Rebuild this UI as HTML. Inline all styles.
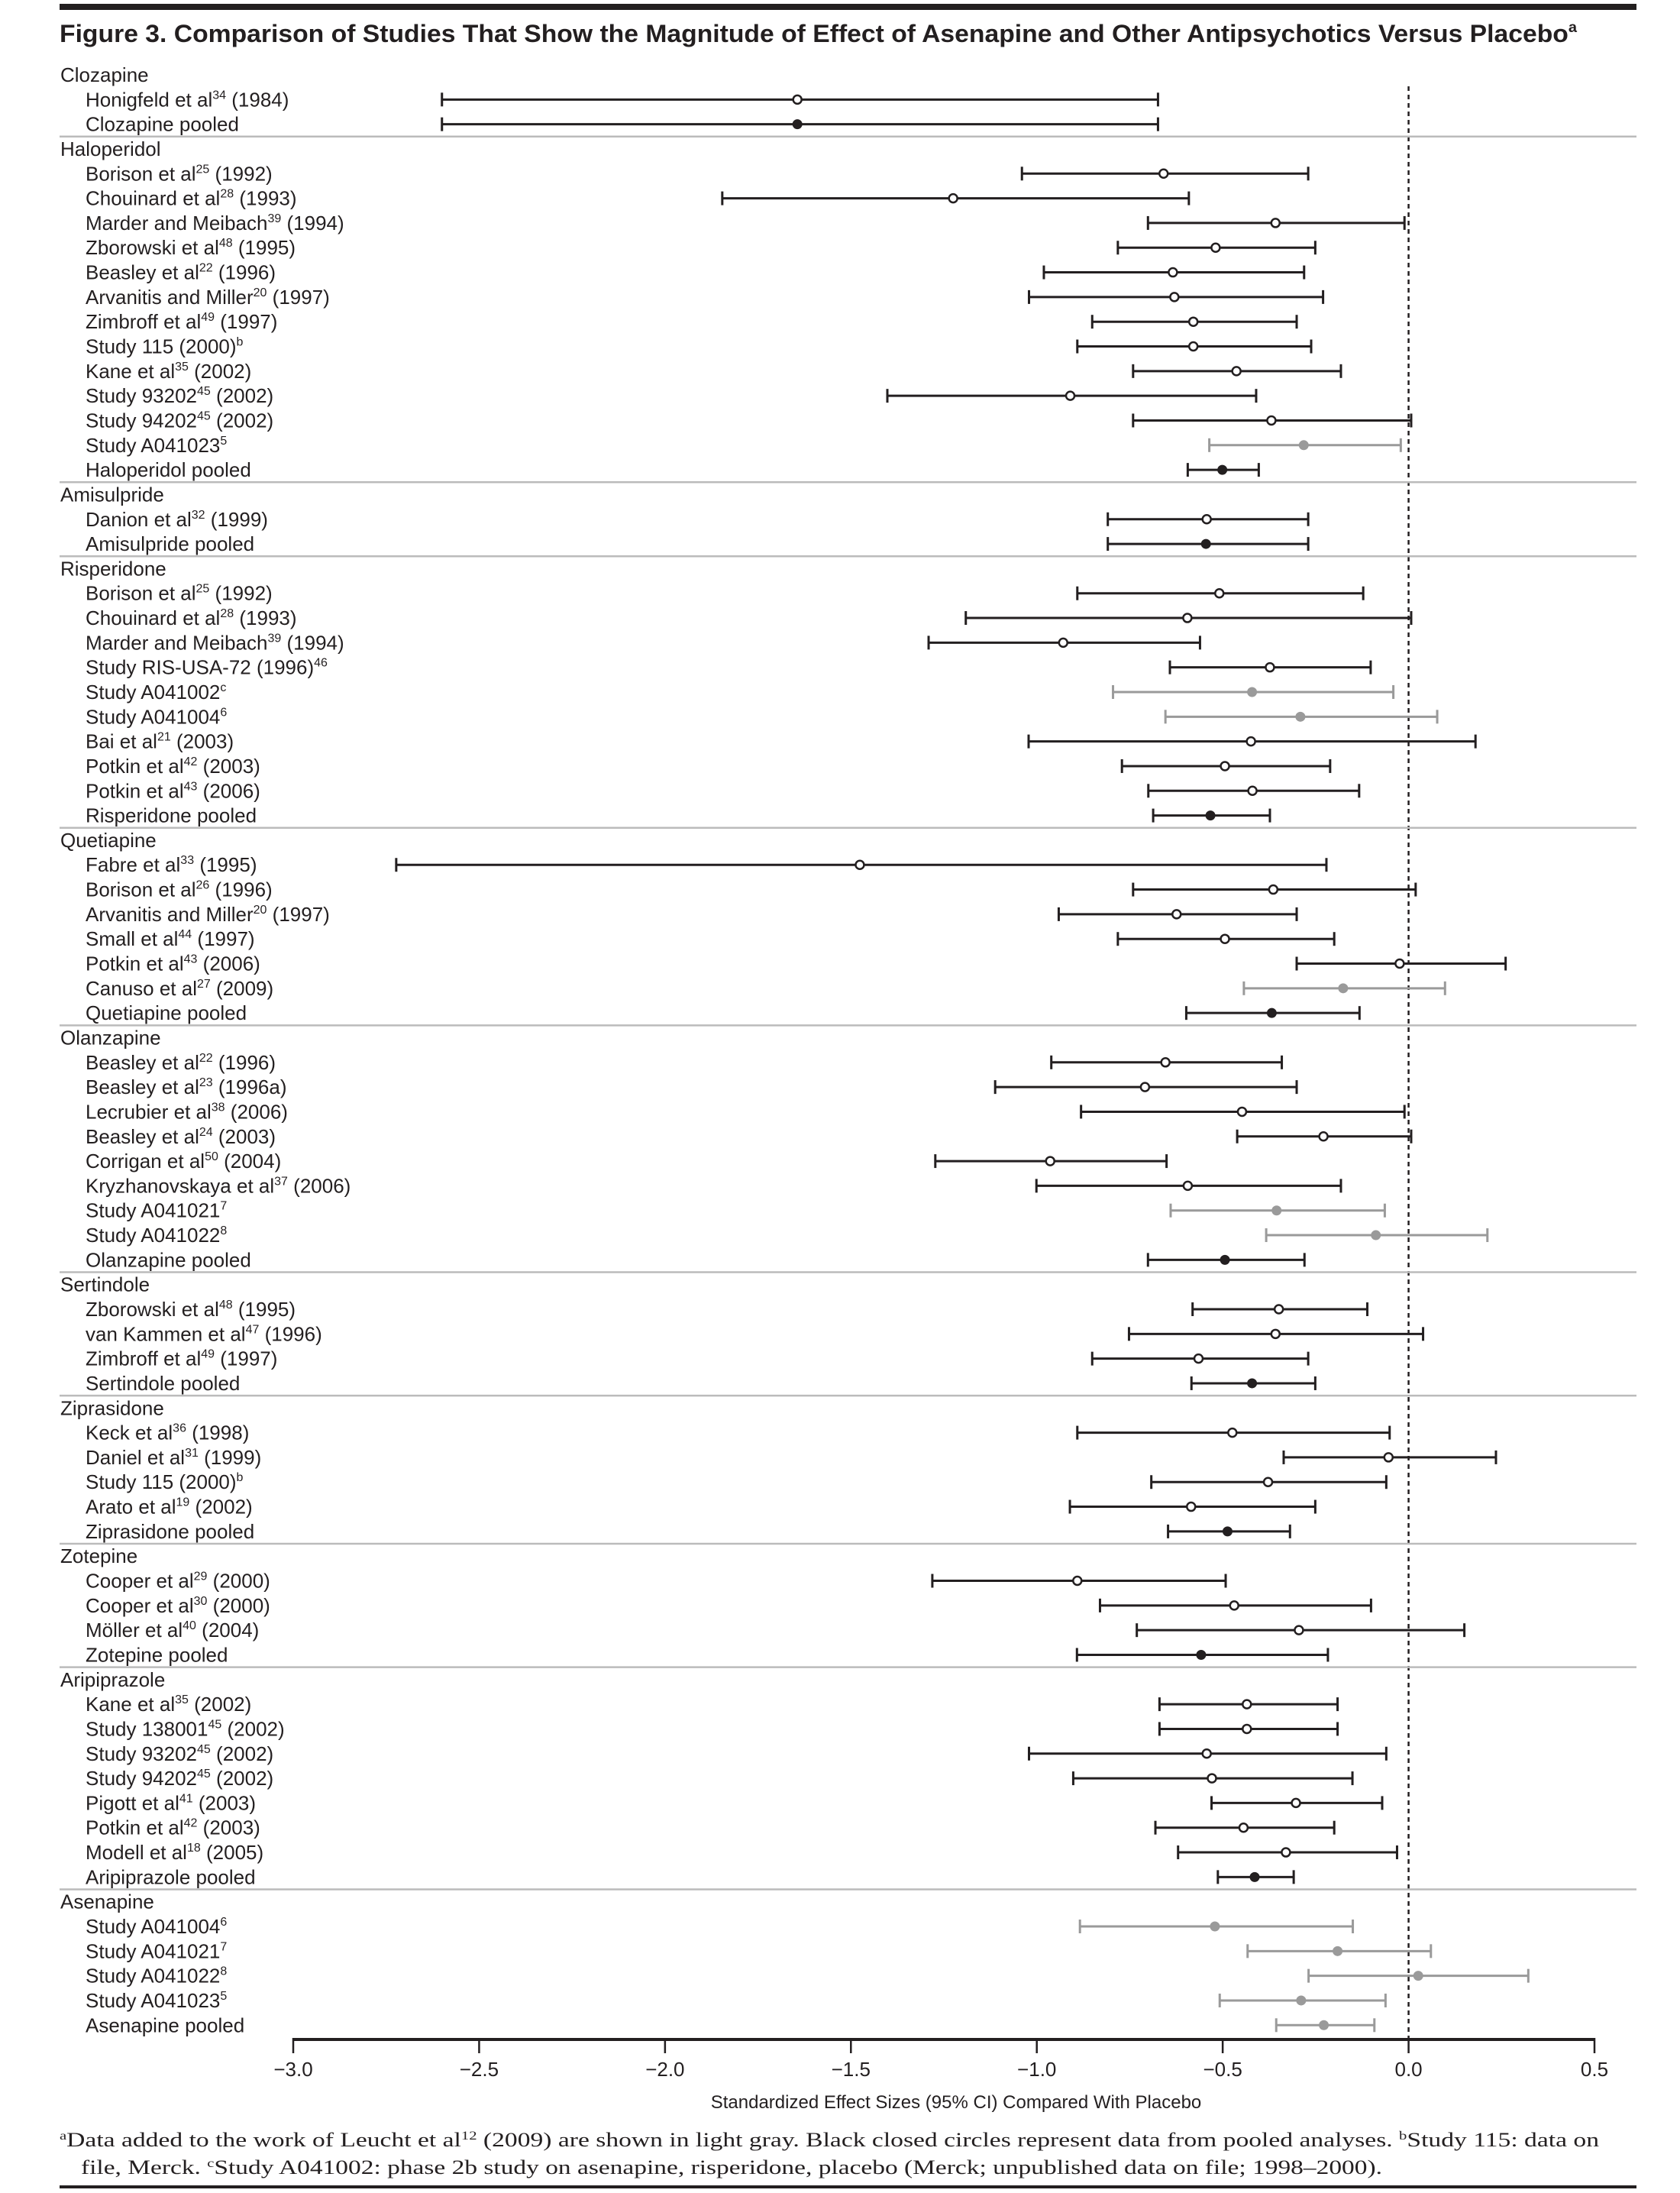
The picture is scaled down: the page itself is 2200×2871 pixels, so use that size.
<!DOCTYPE html>
<html><head><meta charset="utf-8"><style>
html,body{margin:0;padding:0;background:#fff;}
svg{display:block;}
text{font-family:"Liberation Sans",sans-serif;fill:#231f20;}
</style></head><body>
<svg id="chart" width="2200" height="2871" viewBox="0 0 2200 2871" xmlns="http://www.w3.org/2000/svg">
<rect x="78" y="5" width="2065" height="8" fill="#231f20"/>
<text x="78" y="55" font-size="32" font-weight="bold" textLength="1987" lengthAdjust="spacingAndGlyphs">Figure 3. Comparison of Studies That Show the Magnitude of Effect of Asenapine and Other Antipsychotics Versus Placebo<tspan font-size="19" dy="-13">a</tspan></text>
<g id="rows"></g>
<g id="axis"></g>
<text x="1252" y="2760" font-size="24" text-anchor="middle">Standardized Effect Sizes (95% CI) Compared With Placebo</text>
<text x="78" y="2810" font-size="26" style="font-family:'Liberation Serif',serif" textLength="2016" lengthAdjust="spacingAndGlyphs"><tspan font-size="16" dy="-9">a</tspan><tspan dy="9">Data added to the work of Leucht et al</tspan><tspan font-size="16" dy="-9">12</tspan><tspan dy="9"> (2009) are shown in light gray. Black closed circles represent data from pooled analyses.   </tspan><tspan font-size="16" dy="-9">b</tspan><tspan dy="9">Study 115: data on</tspan></text>
<text x="106" y="2846" font-size="26" style="font-family:'Liberation Serif',serif" textLength="1704" lengthAdjust="spacingAndGlyphs">file, Merck.   <tspan font-size="16" dy="-9">c</tspan><tspan dy="9">Study A041002: phase 2b study on asenapine, risperidone, placebo (Merck; unpublished data on file; 1998–2000).</tspan></text>
<rect x="78" y="2861" width="2065" height="4" fill="#231f20"/>
</svg>
<script>
const labels = [
"Clozapine","Honigfeld et al^34^ (1984)","Clozapine pooled",
"Haloperidol","Borison et al^25^ (1992)","Chouinard et al^28^ (1993)","Marder and Meibach^39^ (1994)","Zborowski et al^48^ (1995)","Beasley et al^22^ (1996)","Arvanitis and Miller^20^ (1997)","Zimbroff et al^49^ (1997)","Study 115 (2000)^b^","Kane et al^35^ (2002)","Study 93202^45^ (2002)","Study 94202^45^ (2002)","Study A041023^5^","Haloperidol pooled",
"Amisulpride","Danion et al^32^ (1999)","Amisulpride pooled",
"Risperidone","Borison et al^25^ (1992)","Chouinard et al^28^ (1993)","Marder and Meibach^39^ (1994)","Study RIS-USA-72 (1996)^46^","Study A041002^c^","Study A041004^6^","Bai et al^21^ (2003)","Potkin et al^42^ (2003)","Potkin et al^43^ (2006)","Risperidone pooled",
"Quetiapine","Fabre et al^33^ (1995)","Borison et al^26^ (1996)","Arvanitis and Miller^20^ (1997)","Small et al^44^ (1997)","Potkin et al^43^ (2006)","Canuso et al^27^ (2009)","Quetiapine pooled",
"Olanzapine","Beasley et al^22^ (1996)","Beasley et al^23^ (1996a)","Lecrubier et al^38^ (2006)","Beasley et al^24^ (2003)","Corrigan et al^50^ (2004)","Kryzhanovskaya et al^37^ (2006)","Study A041021^7^","Study A041022^8^","Olanzapine pooled",
"Sertindole","Zborowski et al^48^ (1995)","van Kammen et al^47^ (1996)","Zimbroff et al^49^ (1997)","Sertindole pooled",
"Ziprasidone","Keck et al^36^ (1998)","Daniel et al^31^ (1999)","Study 115 (2000)^b^","Arato et al^19^ (2002)","Ziprasidone pooled",
"Zotepine","Cooper et al^29^ (2000)","Cooper et al^30^ (2000)","Möller et al^40^ (2004)","Zotepine pooled",
"Aripiprazole","Kane et al^35^ (2002)","Study 138001^45^ (2002)","Study 93202^45^ (2002)","Study 94202^45^ (2002)","Pigott et al^41^ (2003)","Potkin et al^42^ (2003)","Modell et al^18^ (2005)","Aripiprazole pooled",
"Asenapine","Study A041004^6^","Study A041021^7^","Study A041022^8^","Study A041023^5^","Asenapine pooled"
];
// kind: h=header, o=open study, g=gray study, p=pooled (black), q=pooled gray
const kinds = [
"h","o","p",
"h","o","o","o","o","o","o","o","o","o","o","o","g","p",
"h","o","p",
"h","o","o","o","o","g","g","o","o","o","p",
"h","o","o","o","o","o","g","p",
"h","o","o","o","o","o","o","g","g","p",
"h","o","o","o","p",
"h","o","o","o","o","p",
"h","o","o","o","p",
"h","o","o","o","o","o","o","o","p",
"h","g","g","g","g","q"
];
const estimates = [
null,-1.644,-1.644,
null,-0.659,-1.225,-0.358,-0.519,-0.634,-0.630,-0.579,-0.579,-0.463,-0.910,-0.369,-0.282,-0.501,
null,-0.543,-0.545,
null,-0.509,-0.595,-0.929,-0.373,-0.421,-0.291,-0.424,-0.494,-0.420,-0.533,
null,-1.476,-0.364,-0.624,-0.494,-0.024,-0.176,-0.368,
null,-0.654,-0.709,-0.448,-0.229,-0.964,-0.594,-0.355,-0.088,-0.494,
null,-0.349,-0.358,-0.565,-0.421,
null,-0.474,-0.054,-0.378,-0.585,-0.487,
null,-0.891,-0.469,-0.295,-0.558,
null,-0.435,-0.435,-0.543,-0.529,-0.303,-0.444,-0.330,-0.414,
null,-0.521,-0.191,0.026,-0.289,-0.228
];
const lowerCI = [
null,-2.60,-2.60,
null,-1.040,-1.846,-0.701,-0.782,-0.981,-1.021,-0.851,-0.891,-0.741,-1.402,-0.741,-0.536,-0.594,
null,-0.809,-0.809,
null,-0.891,-1.191,-1.291,-0.642,-0.795,-0.654,-1.022,-0.771,-0.700,-0.687,
null,-2.723,-0.741,-0.941,-0.782,-0.301,-0.443,-0.598,
null,-0.961,-1.112,-0.881,-0.461,-1.273,-1.001,-0.640,-0.383,-0.701,
null,-0.581,-0.752,-0.851,-0.584,
null,-0.891,-0.336,-0.692,-0.911,-0.647,
null,-1.281,-0.830,-0.731,-0.892,
null,-0.670,-0.670,-1.021,-0.902,-0.530,-0.681,-0.620,-0.513,
null,-0.884,-0.433,-0.269,-0.508,-0.356
];
const upperCI = [
null,-0.674,-0.674,
null,-0.270,-0.591,-0.011,-0.251,-0.281,-0.230,-0.301,-0.262,-0.182,-0.410,0.007,-0.021,-0.403,
null,-0.270,-0.270,
null,-0.122,0.007,-0.561,-0.102,-0.041,0.077,0.180,-0.211,-0.133,-0.373,
null,-0.221,0.019,-0.301,-0.200,0.261,0.098,-0.132,
null,-0.341,-0.301,-0.011,0.007,-0.651,-0.182,-0.064,0.212,-0.280,
null,-0.111,0.039,-0.270,-0.251,
null,-0.051,0.235,-0.060,-0.251,-0.319,
null,-0.492,-0.101,0.150,-0.217,
null,-0.191,-0.191,-0.060,-0.151,-0.071,-0.200,-0.031,-0.309,
null,-0.150,0.060,0.322,-0.062,-0.092
];
const xTicks = [-3.0,-2.5,-2.0,-1.5,-1.0,-0.5,0.0,0.5];
const xTickLabels = ["\u22123.0","\u22122.5","\u22122.0","\u22121.5","\u22121.0","\u22120.5","0.0","0.5"];

const NS = "http://www.w3.org/2000/svg";
const X0 = 384, X1 = 2088, VMIN = -3.0, VMAX = 0.5;
function xScale(v){ return X0 + (v - VMIN) / (VMAX - VMIN) * (X1 - X0); }
const ROW0 = 98, PITCH = 32.32;
function yRow(i){ return ROW0 + i * PITCH; }
function mk(tag, attrs){ const e = document.createElementNS(NS, tag); for (const k in attrs) e.setAttribute(k, attrs[k]); return e; }

const rowsG = document.getElementById('rows');
const axisG = document.getElementById('axis');

const zl = mk('line', {x1: xScale(0), x2: xScale(0), y1: 113, y2: 2669, stroke: '#231f20', 'stroke-width': 2.5, 'stroke-dasharray': '6 5'});


rowsG.appendChild(zl);

function addLabel(i, txt, isHeader){
  const t = mk('text', {x: isHeader ? 79 : 112, y: yRow(i) + 9, 'font-size': 26});
  
  
  const parts = txt.split('^');
  parts.forEach((p, k) => {
    if (!p) return;
    const ts = mk('tspan', {});
    if (k % 2 === 1) { ts.setAttribute('font-size', '16'); ts.setAttribute('baseline-shift', '10'); }
    ts.textContent = p;
    t.appendChild(ts);
  });
  rowsG.appendChild(t);
}

for (let i = 0; i < labels.length; i++) {
  const kind = kinds[i];
  if (kind === 'h') {
    addLabel(i, labels[i], true);
    if (i > 0) {
      const s = mk('line', {x1: 78, x2: 2143, y1: yRow(i) - PITCH / 2, y2: yRow(i) - PITCH / 2, stroke: '#bbbbbb', 'stroke-width': 2.5});
      
      
      rowsG.appendChild(s);
    }
    continue;
  }
  addLabel(i, labels[i], false);
  const gray = (kind === 'g' || kind === 'q');
  const col = gray ? '#9a9a9a' : '#231f20';
  const y = yRow(i);
  const g = mk('g', {});
  
  
  const xl = xScale(lowerCI[i]), xh = xScale(upperCI[i]), xe = xScale(estimates[i]);
  const ln = mk('line', {x1: xl, x2: xh, y1: y, y2: y, stroke: col, 'stroke-width': 3});
  
  
  g.appendChild(ln);
  [xl, xh].forEach(xx => {
    const c = mk('line', {x1: xx, x2: xx, y1: y - 9, y2: y + 9, stroke: col, 'stroke-width': 3});
    
    
    g.appendChild(c);
  });
  let fill = '#fff';
  if (kind === 'p') fill = '#231f20';
  if (gray) fill = '#9a9a9a';
  const pt = mk('circle', {cx: xe, cy: y, r: (kind === 'o') ? 5.5 : 6, fill: fill, stroke: col, 'stroke-width': (kind === 'o') ? 2.5 : 1});
  
  
  g.appendChild(pt);
  rowsG.appendChild(g);
}

const ax = mk('line', {x1: X0, x2: X1, y1: 2670, y2: 2670, stroke: '#231f20', 'stroke-width': 4});


axisG.appendChild(ax);
xTicks.forEach((v, k) => {
  const tk = mk('line', {x1: xScale(v), x2: xScale(v), y1: 2668, y2: 2688, stroke: '#231f20', 'stroke-width': 2.5});
  
  
  axisG.appendChild(tk);
  const tl = mk('text', {x: xScale(v), y: 2718, 'font-size': 26, 'text-anchor': 'middle'});
  
  
  tl.textContent = xTickLabels[k];
  axisG.appendChild(tl);
});
</script>
</body></html>
